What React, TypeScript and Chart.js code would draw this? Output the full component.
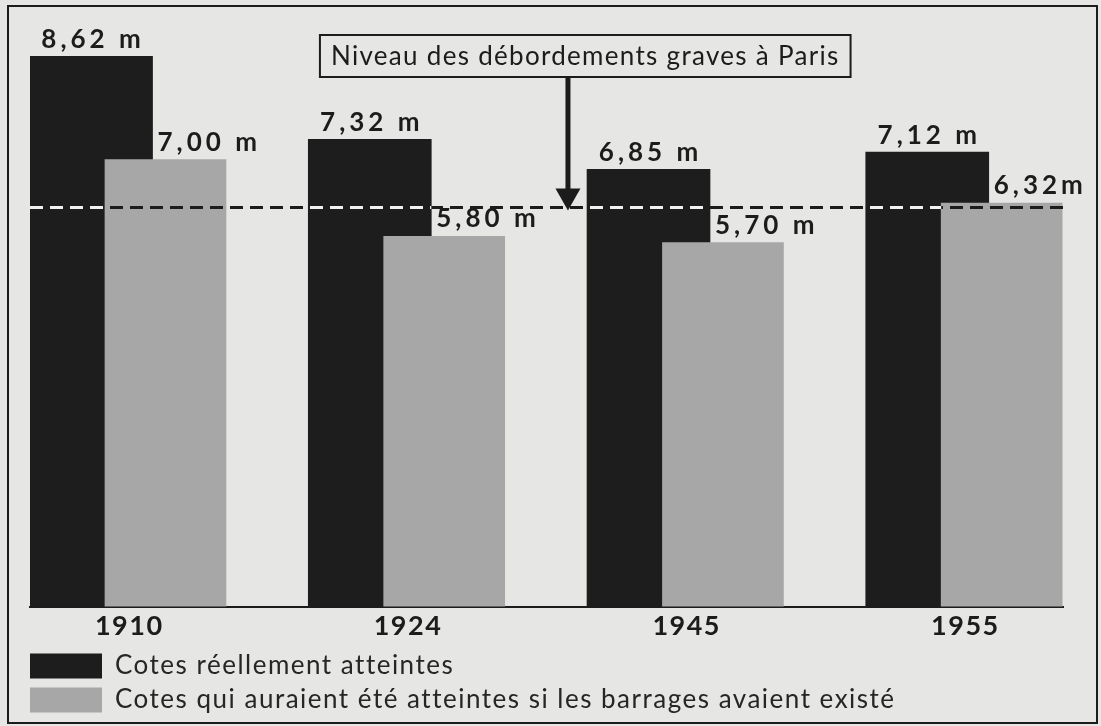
import React, { useEffect, useRef } from 'react';
import { Chart, registerables } from 'chart.js';

Chart.register(...registerables);

// ---- data ----
const categories = ['1910', '1924', '1945', '1955'];
const actualLevels = [8.62, 7.32, 6.85, 7.12];
const withDamsLevels = [7.0, 5.8, 5.7, 6.32];
const withDamsLabelGap = [' ', ' ', ' ', ''];
const floodLevel = 6.25;
const seriesNames = [
  'Cotes réellement atteintes',
  'Cotes qui auraient été atteintes si les barrages avaient existé',
];
const annotationText = 'Niveau des débordements graves à Paris';
const yMax = 9;

// ---- styles ----
const PAPER = '#e6e6e4';
const DARK = '#1d1d1d';
const GREY = '#a7a7a7';
const INK = '#1c1c1c';
const FONT = 'Lato, "Open Sans", sans-serif';
const DARK_SHIFT = -0.137;
const GREY_SHIFT = 0.13;
const ARROW_X = 1.574;
const BOX_CENTER_X = 1.636;

const fmt = (v: number, sep: string) => v.toFixed(2).replace('.', ',') + sep + 'm';

const setSpacing = (ctx: any, s: string) => {
  ctx.letterSpacing = s;
};

const paperPlugin = {
  id: 'paper',
  beforeLayout(chart: any) {
    setSpacing(chart.ctx, '1.5px');
  },
  afterLayout(chart: any) {
    setSpacing(chart.ctx, '0px');
  },
  beforeDraw(chart: any) {
    const { ctx, width, height } = chart;
    ctx.save();
    ctx.fillStyle = PAPER;
    ctx.fillRect(0, 0, width, height);
    ctx.restore();
    setSpacing(ctx, '1.5px');
  },
  beforeDatasetsDraw(chart: any) {
    setSpacing(chart.ctx, '0px');
  },
  afterDraw(chart: any) {
    const { ctx, width, height } = chart;
    ctx.save();
    ctx.strokeStyle = INK;
    ctx.lineWidth = 2;
    ctx.strokeRect(8, 6, width - 8 - 4, height - 6 - 3);
    ctx.restore();
  },
};

const rectOf = (el: any) => {
  const p = el.getProps(['x', 'y', 'base', 'width'], true);
  return { left: p.x - p.width / 2, right: p.x + p.width / 2, top: p.y, bottom: p.base };
};

const overlayPlugin = {
  id: 'overlay',
  afterDatasetsDraw(chart: any) {
    const { ctx, chartArea, scales } = chart;
    const xs = scales.x;
    const ys = scales.y;
    const darkEls = chart.getDatasetMeta(0).data;
    const greyEls = chart.getDatasetMeta(1).data;
    const yLine = ys.getPixelForValue(floodLevel);

    // dashed flood line (white over the black bars, dark elsewhere)
    const dash = (color: string) => {
      ctx.beginPath();
      ctx.setLineDash([13, 7]);
      ctx.lineDashOffset = 0;
      ctx.lineWidth = 3;
      ctx.strokeStyle = color;
      ctx.moveTo(chartArea.left, yLine);
      ctx.lineTo(chartArea.right + 2, yLine);
      ctx.stroke();
    };
    ctx.save();
    dash(INK);
    ctx.restore();
    darkEls.forEach((el: any) => {
      const r = rectOf(el);
      ctx.save();
      ctx.beginPath();
      ctx.rect(r.left, r.top, r.right - r.left, r.bottom - r.top);
      ctx.clip();
      dash('#f0f0ee');
      ctx.restore();
    });
    greyEls.forEach((el: any) => {
      const r = rectOf(el);
      ctx.save();
      ctx.beginPath();
      ctx.rect(r.left, r.top, r.right - r.left, r.bottom - r.top);
      ctx.clip();
      dash(INK);
      ctx.restore();
    });

    // value labels
    ctx.save();
    ctx.fillStyle = INK;
    ctx.font = `bold 26px ${FONT}`;
    setSpacing(ctx, '4px');
    ctx.textBaseline = 'alphabetic';
    darkEls.forEach((el: any, i: number) => {
      const r = rectOf(el);
      ctx.textAlign = 'center';
      ctx.fillText(fmt(actualLevels[i], ' '), (r.left + r.right) / 2 + 2, r.top - 8);
    });
    greyEls.forEach((el: any, i: number) => {
      const r = rectOf(el);
      const d = rectOf(darkEls[i]);
      ctx.textAlign = 'left';
      ctx.fillText(fmt(withDamsLevels[i], withDamsLabelGap[i]), d.right + 5, r.top - 9);
    });
    setSpacing(ctx, '0px');
    ctx.restore();

    // annotation box + arrow
    ctx.save();
    ctx.font = `26px ${FONT}`;
    setSpacing(ctx, '1.3px');
    const tw = ctx.measureText(annotationText).width;
    const cx = xs.getPixelForValue(BOX_CENTER_X);
    const boxW = tw + 22;
    const boxTop = chartArea.top + 3;
    const boxH = 42;
    const ax = xs.getPixelForValue(ARROW_X);
    const tip = yLine + 3;
    ctx.fillStyle = INK;
    ctx.fillRect(ax - 2.5, boxTop + boxH, 5, tip - 20 - (boxTop + boxH));
    ctx.beginPath();
    ctx.moveTo(ax - 12.5, tip - 22);
    ctx.lineTo(ax + 12.5, tip - 22);
    ctx.lineTo(ax, tip);
    ctx.closePath();
    ctx.fill();
    ctx.fillStyle = PAPER;
    ctx.fillRect(cx - boxW / 2, boxTop, boxW, boxH);
    ctx.strokeStyle = INK;
    ctx.lineWidth = 2;
    ctx.strokeRect(cx - boxW / 2, boxTop, boxW, boxH);
    ctx.fillStyle = INK;
    ctx.textAlign = 'center';
    ctx.textBaseline = 'middle';
    ctx.fillText(annotationText, cx, boxTop + boxH / 2 + 1);
    setSpacing(ctx, '0px');
    ctx.restore();
  },
};

export default function App() {
  const canvasRef = useRef<HTMLCanvasElement | null>(null);

  useEffect(() => {
    if (!canvasRef.current) return;
    const chart = new Chart(canvasRef.current, {
      type: 'bar',
      data: {
        datasets: [
          {
            label: seriesNames[0],
            data: actualLevels.map((v, i) => ({ x: i + DARK_SHIFT, y: v })),
            backgroundColor: DARK,
            borderWidth: 0,
            barThickness: 123,
            grouped: false,
            order: 2,
          },
          {
            label: seriesNames[1],
            data: withDamsLevels.map((v, i) => ({ x: i + GREY_SHIFT, y: v })),
            backgroundColor: GREY,
            borderWidth: 0,
            barThickness: 121,
            grouped: false,
            order: 1,
          },
        ] as any,
      },
      options: {
        animation: false,
        responsive: false,
        devicePixelRatio: 1,
        layout: { padding: { left: 22, right: 38, top: 32, bottom: 3 } },
        scales: {
          x: {
            type: 'linear',
            min: -0.356,
            max: 3.35,
            offset: false,
            grid: { display: false, drawTicks: false, offset: false },
            border: { display: true, color: INK, width: 2 },
            afterBuildTicks: (s: any) => {
              s.ticks = categories.map((_, i) => ({ value: i }));
            },
            ticks: {
              autoSkip: false,
              maxRotation: 0,
              padding: 3,
              color: INK,
              font: { family: FONT, size: 27, weight: 'bold', lineHeight: 1.2 },
              callback: (v: any) => categories[v as number] ?? '',
            },
          },
          y: {
            min: 0,
            max: yMax,
            grid: { display: false, drawTicks: false },
            border: { display: false },
            ticks: { display: false },
            afterFit: (s: any) => {
              s.width = 8;
            },
          },
        },
        plugins: {
          legend: {
            position: 'bottom',
            align: 'start',
            labels: {
              boxWidth: 72,
              boxHeight: 25,
              padding: 8,
              color: '#262626',
              font: { family: FONT, size: 26 },
              sort: (a: any, b: any) => a.datasetIndex - b.datasetIndex,
            },
          },
          tooltip: { enabled: false },
          title: { display: false },
        },
      } as any,
      plugins: [paperPlugin, overlayPlugin],
    });
    return () => chart.destroy();
  }, []);

  return (
    <div style={{ position: 'fixed', left: 0, top: 0, width: 1101, height: 726 }}>
      <canvas ref={canvasRef} width={1101} height={726} style={{ display: 'block' }} />
    </div>
  );
}
